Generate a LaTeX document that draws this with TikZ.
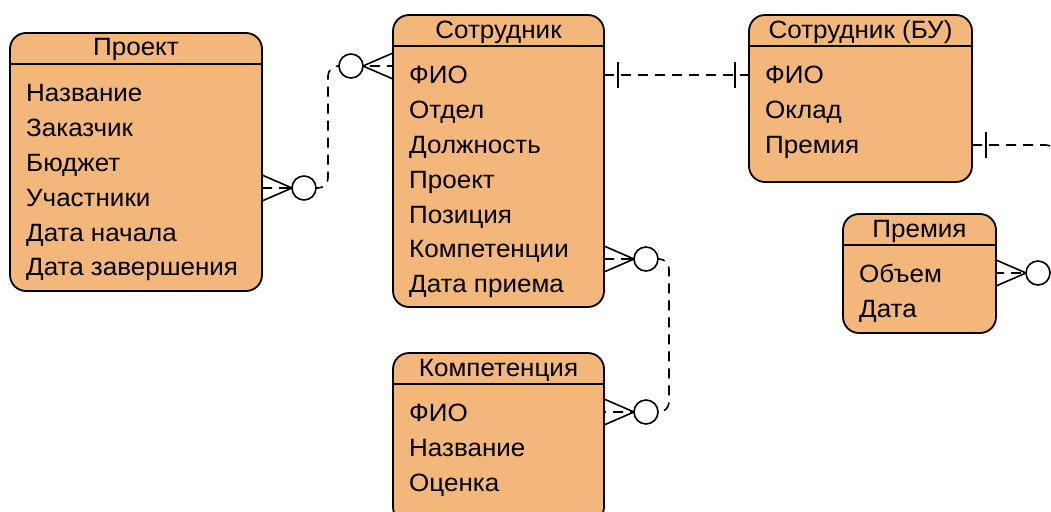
\documentclass[tikz,border=0pt]{standalone}
\usepackage{fontspec}
\setmainfont{Liberation Sans}[FakeStretch=1.04]
\definecolor{entfill}{RGB}{243,182,123}

% one entity box: name, x, y, width, height, title, list of attributes
\newcommand\entitybox[7]{%
  \node[entity, minimum width=#4pt, minimum height=#5pt] (#1) at (#2,#3) {};
  \draw[line width=1.8pt] ([yshift=-31pt]#1.north west) -- ([yshift=-31pt]#1.north east);
  \node[etitle] (#1-t) at ([yshift=-23pt]#1.north) {#6};
  \foreach \t [count=\i] in {#7}
    \node[attr] (#1-\i) at ([xshift=16pt,yshift={-68.8pt-34.8pt*(\i-1)}]#1.north west) {\t};
}

\begin{document}
\begin{tikzpicture}[x=1pt,y=-1pt,
  entity/.style={draw=black, line width=1.8pt, fill=entfill, rounded corners=16pt,
    anchor=north west, inner sep=0pt, outer sep=0pt},
  etitle/.style={font=\fontsize{25}{29}\selectfont, inner sep=0pt, anchor=base, text=black},
  attr/.style={font=\fontsize{25}{29}\selectfont, inner sep=0pt, anchor=base west, text=black},
  conn/.style={line width=1.6pt, dash pattern=on 10pt off 7pt, rounded corners=10pt},
  endmark/.style={line width=1.6pt, solid},
  zeromany/.pic={
    \draw[endmark] (0,-13) -- (30,0) -- (0,13);
    \draw[endmark, fill=white] (42,0) circle[radius=12pt];
  },
  onetick/.pic={\draw[endmark] (14,-13) -- (14,13);}
]
\clip (0,0) rectangle (1051,511);
\fill[white] (0,0) rectangle (1051,511);

\entitybox{proj}{10}{33}{252}{258}{Проект}%
  {Название,Заказчик,Бюджет,Участники,Дата начала,Дата завершения}
\entitybox{emp}{393}{15}{211}{292}{Сотрудник}%
  {ФИО,Отдел,Должность,Проект,Позиция,Компетенции,Дата приема}
\entitybox{bu}{749}{15}{223}{167}{Сотрудник (БУ)}{ФИО,Оклад,Премия}
\entitybox{prem}{843}{214}{153}{119}{Премия}{Объем,Дата}
\entitybox{komp}{393}{353}{211}{170}{Компетенция}{ФИО,Название,Оценка}

% Проект -- Сотрудник
\coordinate (p-r) at (proj.east |- 0,188);
\coordinate (e-l) at (emp.west |- 0,66);
\coordinate (bend-a) at (328,120);
\draw[conn] (p-r) -| (bend-a) |- (e-l);
\pic at (p-r) {zeromany};
\pic[rotate=180] at (e-l) {zeromany};

% Сотрудник -- Сотрудник (БУ)
\coordinate (e-r) at (emp.east |- 0,75);
\coordinate (b-l) at (bu.west |- 0,75);
\draw[conn] (e-r) -- (b-l);
\pic at (e-r) {onetick};
\pic[rotate=180] at (b-l) {onetick};

% Сотрудник (БУ) -- Премия
\coordinate (b-r) at (bu.east |- 0,145);
\coordinate (pr-r) at (prem.east |- 0,273);
\coordinate (bend-c) at (1056,210);
\draw[conn] (b-r) -| (bend-c) |- (pr-r);
\pic at (b-r) {onetick};
\pic at (pr-r) {zeromany};

% Сотрудник -- Компетенция
\coordinate (e-r2) at (emp.east |- 0,259);
\coordinate (k-r) at (komp.east |- 0,412);
\coordinate (bend-d) at (669,330);
\draw[conn] (e-r2) -| (bend-d) |- (k-r);
\pic at (e-r2) {zeromany};
\pic at (k-r) {zeromany};
\end{tikzpicture}
\end{document}
